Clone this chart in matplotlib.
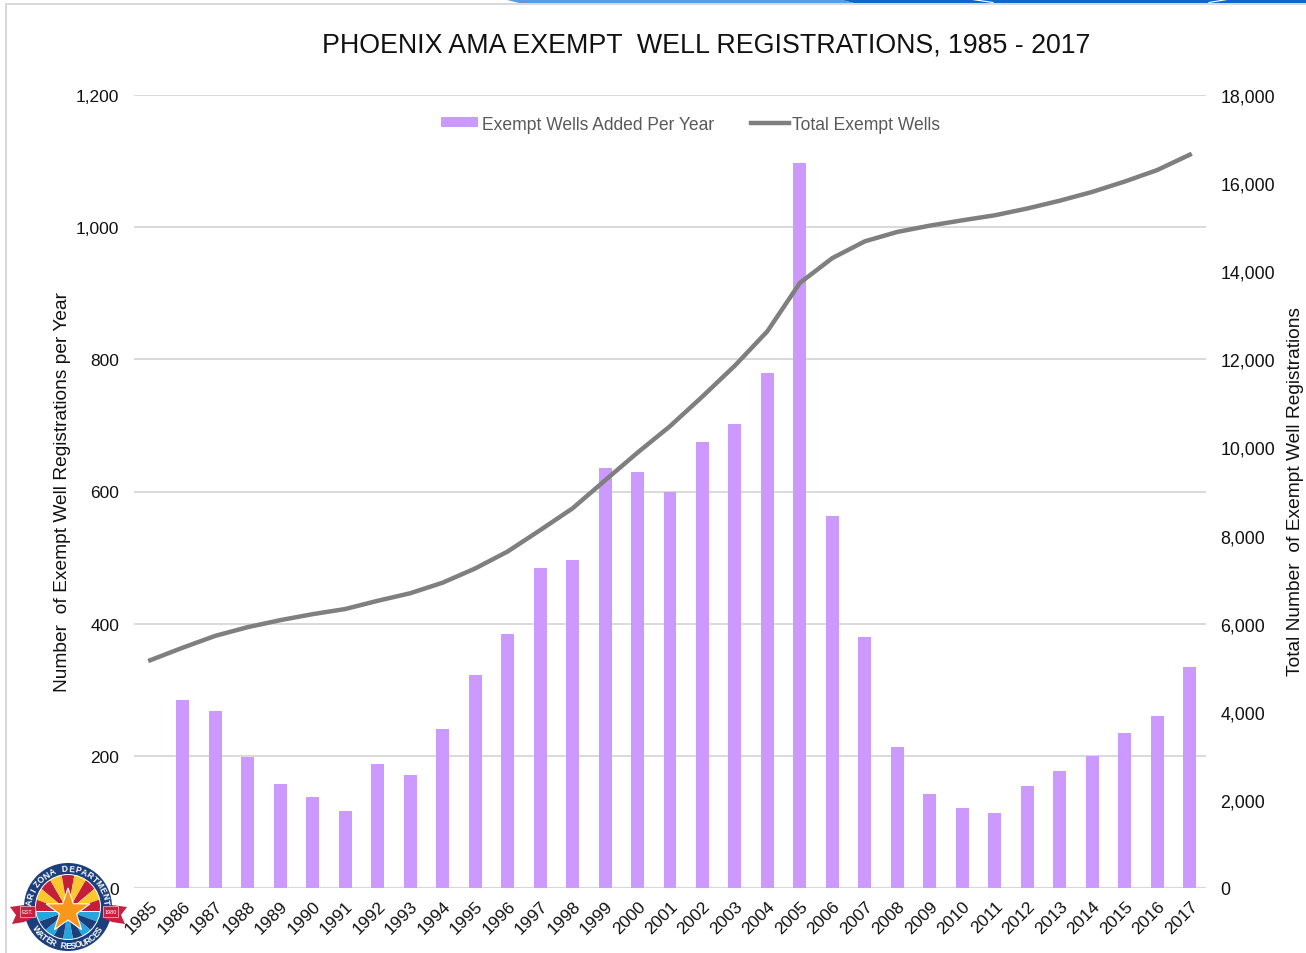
import numpy as np
import matplotlib
matplotlib.use('Agg')
import matplotlib.pyplot as plt
from matplotlib.patches import Circle, Polygon, Rectangle, Wedge

plt.rcParams['font.family'] = ['Liberation Sans', 'DejaVu Sans']

years = list(range(1985, 2018))
added = [0, 285, 268, 198, 158, 137, 116, 187, 171, 240, 322, 385, 484, 496, 635, 630, 600,
         675, 702, 780, 1097, 563, 380, 213, 143, 121, 114, 154, 177, 200, 235, 261, 334]
total = [5170, 5455, 5723, 5921, 6079, 6216, 6332, 6519, 6690, 6930, 7252, 7637, 8121, 8617,
         9252, 9882, 10482, 11157, 11859, 12639, 13736, 14299, 14679, 14892, 15035, 15156,
         15270, 15424, 15601, 15801, 16036, 16297, 16645]
left_ticks = [0, 200, 400, 600, 800, 1000, 1200]
right_ticks = [0, 2000, 4000, 6000, 8000, 10000, 12000, 14000, 16000, 18000]

W, H = 1306, 954
fig = plt.figure(figsize=(W / 100, H / 100), dpi=100)

# page frame and the strip of slide banner along the top
bg = fig.add_axes([0, 0, 1, 1], zorder=0)
bg.set_xlim(0, W)
bg.set_ylim(H, 0)
bg.axis('off')
bg.add_patch(Rectangle((5, 4), 2, H, color='#d9d9d9', lw=0))
bg.add_patch(Rectangle((5, 4), W, 2, color='#d9d9d9', lw=0))
bg.add_patch(Polygon([(503, 0), (838, 0), (854, 4), (519, 4)], color='#5b9bdf', lw=0))
bg.add_patch(Polygon([(838, 0), (1306, 0), (1306, 4), (854, 4)], color='#1166cc', lw=0))
bg.plot([969, 993], [0, 3.5], color='white', lw=0.8)
bg.plot([1209, 1230], [3.5, 0], color='white', lw=0.8)

ax = fig.add_axes([134 / W, 1 - 889 / H, 1072 / W, 793 / H], zorder=1)
ax.patch.set_alpha(0)
ax.set_xlim(-0.5, 32.5)
ax.set_ylim(0, 1200)
x = np.arange(len(years))
bars = ax.bar(x, added, width=0.4, color='#cc99ff', zorder=2)
ax.set_yticks(left_ticks)
ax.set_yticklabels([f'{v:,}' for v in left_ticks], fontsize=12.5, color='#111111', va='center_baseline')
ax.set_xticks(x)
ax.set_xticklabels(years, rotation=45, ha='right', rotation_mode='anchor', fontsize=12.6, color='#111111')
ax.tick_params(axis='both', length=0)
ax.tick_params(axis='y', pad=10.5)
ax.tick_params(axis='x', pad=7)
ax.grid(axis='y', color='#d9d9d9', lw=1.4, zorder=0)
for s in ax.spines.values():
    s.set_visible(False)
ax.axhline(0, color='#d9d9d9', lw=1.6, zorder=1)
ax.set_axisbelow(True)

ax2 = ax.twinx()
ax2.set_ylim(0, 18000)
line, = ax2.plot(x, total, color='#7f7f7f', lw=3.2, zorder=3)
ax2.set_yticks(right_ticks)
ax2.set_yticklabels([f'{v:,}' for v in right_ticks], fontsize=12.8, color='#111111', va='center_baseline')
ax2.tick_params(axis='y', length=0, pad=10.5)
for s in ax2.spines.values():
    s.set_visible(False)

fig.text(706.5 / W, 1 - 46 / H, 'PHOENIX AMA EXEMPT  WELL REGISTRATIONS, 1985 - 2017', fontsize=19.3,
         ha='center', va='center', color='#111111')
fig.text(63 / W, 1 - 492 / H, 'Number  of Exempt Well Registrations per Year', rotation=90, fontsize=13.8,
         ha='center', va='center', color='#111111')
fig.text(1295 / W, 1 - 492 / H, 'Total Number  of Exempt Well Registrations', rotation=90, fontsize=13.8,
         ha='center', va='center', color='#111111')

ax2.legend([bars, line], ['Exempt Wells Added Per Year', 'Total Exempt Wells'], ncol=2, frameon=False,
           loc='center', bbox_to_anchor=((690.5 - 134) / 1072, 1 - (125 - 96) / 793), fontsize=12.65,
           labelcolor='#595959', columnspacing=2.1, handlelength=2.15, handletextpad=0.2, handleheight=0.5)

# ADWR seal, drawn in pixel coordinates on a top layer
lg = fig.add_axes([0, 0, 1, 1], zorder=5)
lg.set_xlim(0, W)
lg.set_ylim(H, 0)
lg.axis('off')
cx, cy = 68, 908
sy = 912
navy, red, gold, sky, star = '#1c3f7c', '#c41e3a', '#fdc82f', '#27a5de', '#f7981d'
lg.add_patch(Circle((cx, cy), 44, color=navy, lw=0))
lg.add_patch(Circle((cx, cy), 33, color='white', lw=0))
disc = Circle((cx, cy), 32, transform=lg.transData)
for i in range(9):
    # lg has y pointing down, so angles run clockwise from the right
    up = Wedge((cx, sy), 60, 180 + i * 20, 200 + i * 20, color=red if i % 2 == 0 else gold, lw=0)
    dn = Wedge((cx, sy), 60, i * 20, 20 + i * 20, color=sky if i % 2 == 0 else navy, lw=0)
    for w in (up, dn):
        lg.add_patch(w)
        w.set_clip_path(disc)
lg.add_patch(Rectangle((cx - 32, sy - 0.5), 64, 1, color='white', lw=0))
ang = np.radians(-90 + np.arange(10) * 36)
rad = np.where(np.arange(10) % 2 == 0, 23, 9)
lg.add_patch(Polygon(np.c_[cx + rad * np.cos(ang), 912 + rad * np.sin(ang)], facecolor=star,
                     edgecolor='white', lw=0.8))
# ribbon tails and the two dated boxes in front of the ring
lg.add_patch(Polygon([(10, 908), (24, 906), (24, 918), (35, 918), (24, 923), (12, 925), (16, 916)],
                     color='#c8203f', lw=0))
lg.add_patch(Polygon([(127, 908), (112, 906), (112, 918), (101, 918), (112, 923), (125, 925), (121, 916)],
                     color='#c8203f', lw=0))
lg.add_patch(Rectangle((20, 907), 15, 11, facecolor='#c8203f', edgecolor='#f3c6cf', lw=0.5))
lg.add_patch(Rectangle((103, 907), 15, 11, facecolor='#c8203f', edgecolor='#f3c6cf', lw=0.5))
lg.text(27.5, 912.5, 'EST.', color='white', fontsize=4, ha='center', va='center')
lg.text(110.5, 912.5, '1980', color='white', fontsize=4, ha='center', va='center')


def arc_text(s, a_start, a_end, r, top=True):
    # one rotated letter at a time around the seal
    for ch, a in zip(s, np.linspace(a_start, a_end, len(s))):
        t = np.radians(a)
        rot = a - 90 if top else a + 90
        lg.text(cx + r * np.cos(t), cy - r * np.sin(t), ch, color='white', fontsize=6.2, fontweight='bold',
                rotation=rot, ha='center', va='center', rotation_mode='anchor')


arc_text('ARIZONA DEPARTMENT', 172, 8, 38.5)
arc_text('WATER RESOURCES', 215, 325, 38.5, top=False)

fig.savefig('out.png', dpi=100)
